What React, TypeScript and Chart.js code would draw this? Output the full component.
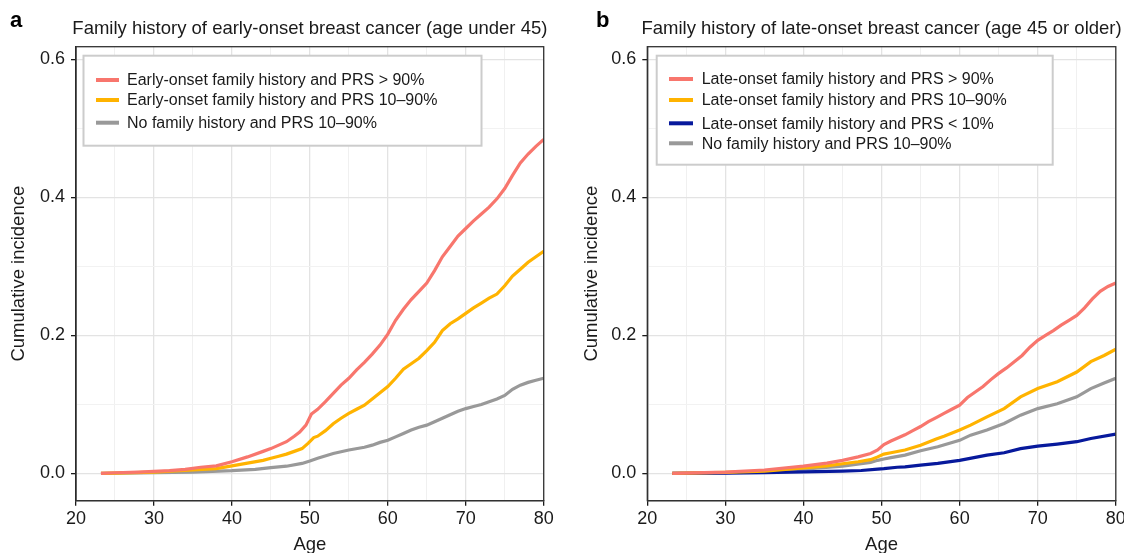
import React, { useEffect, useRef } from "react";
import { Chart, registerables } from "chart.js";

Chart.register(...registerables);

// ---------------- Data ----------------
const AGE_MIN = 20;
const AGE_MAX = 80;
const Y_MIN = -0.0395;
const Y_MAX = 0.6185;

const TITLE_A = "Family history of early-onset breast cancer (age under 45)";
const TITLE_B = "Family history of late-onset breast cancer (age 45 or older)";
const Y_TITLE = "Cumulative incidence";
const X_TITLE = "Age";

const LABELS_A = [
  "Early-onset family history and PRS > 90%",
  "Early-onset family history and PRS 10\u201390%",
  "No family history and PRS 10\u201390%",
];
const LABELS_B = [
  "Late-onset family history and PRS > 90%",
  "Late-onset family history and PRS 10\u201390%",
  "Late-onset family history and PRS < 10%",
  "No family history and PRS 10\u201390%",
];

// Panel a – early-onset family history, PRS > 90%
const agesA_high = [23.2, 25, 28, 30, 32, 34, 36, 38, 40, 42, 44, 45, 46, 47, 48, 48.7, 49.5, 50.2, 51, 52, 53, 54, 55, 56, 57, 58, 59, 60, 61, 62, 63, 64, 65, 66, 67, 68, 69, 70, 71, 72, 73, 74, 75, 76, 77, 78, 79, 80];
const incA_high = [0, 0.001, 0.002, 0.003, 0.004, 0.006, 0.009, 0.011, 0.017, 0.024, 0.032, 0.036, 0.041, 0.046, 0.054, 0.06, 0.07, 0.086, 0.093, 0.104, 0.116, 0.128, 0.138, 0.15, 0.161, 0.173, 0.186, 0.202, 0.222, 0.238, 0.252, 0.264, 0.276, 0.294, 0.314, 0.329, 0.344, 0.355, 0.366, 0.376, 0.386, 0.398, 0.413, 0.432, 0.45, 0.463, 0.474, 0.484];

// Panel a – early-onset family history, PRS 10–90%
const agesA_mid = [23.2, 25, 30, 35, 38, 40, 42, 44, 45, 46, 47, 48, 49, 49.8, 50.5, 51, 52, 53, 54, 55, 56, 57, 58, 59, 60, 61, 62, 63, 64, 65, 66, 67, 68, 69, 70, 71, 72, 73, 74, 75, 76, 77, 78, 79, 80];
const incA_mid = [0, 0.0005, 0.002, 0.005, 0.007, 0.011, 0.015, 0.019, 0.022, 0.025, 0.028, 0.032, 0.036, 0.044, 0.052, 0.054, 0.062, 0.072, 0.08, 0.087, 0.093, 0.099, 0.108, 0.117, 0.126, 0.138, 0.151, 0.159, 0.167, 0.178, 0.19, 0.207, 0.217, 0.224, 0.232, 0.24, 0.247, 0.254, 0.26, 0.272, 0.286, 0.296, 0.306, 0.314, 0.322];

// Panel a – no family history, PRS 10–90%
const agesA_none = [23.2, 30, 35, 40, 43, 45, 47, 49, 50, 51, 53, 55, 57, 58, 59, 60, 61, 62, 63, 64, 65, 66, 67, 68, 69, 70, 71, 72, 73, 74, 75, 76, 77, 78, 79, 80];
const incA_none = [0, 0.001, 0.002, 0.004, 0.006, 0.0085, 0.0105, 0.0145, 0.018, 0.022, 0.029, 0.034, 0.038, 0.041, 0.045, 0.048, 0.053, 0.058, 0.063, 0.067, 0.07, 0.075, 0.08, 0.085, 0.09, 0.094, 0.097, 0.1, 0.104, 0.108, 0.113, 0.122, 0.128, 0.132, 0.135, 0.138];

// Panel b – late-onset family history, PRS > 90%
const agesB_high = [23.2, 30, 35, 40, 43, 45, 47, 48.6, 49.5, 50.3, 51.2, 52, 53, 54, 55, 56, 57, 58, 59, 60, 61, 62, 63, 64, 65, 66, 67, 68, 69, 70, 71, 72, 73, 74, 75, 76, 77, 78, 79, 80];
const incB_high = [0, 0.002, 0.005, 0.0106, 0.015, 0.019, 0.024, 0.029, 0.034, 0.042, 0.047, 0.051, 0.056, 0.062, 0.068, 0.075, 0.081, 0.087, 0.093, 0.099, 0.11, 0.118, 0.126, 0.136, 0.145, 0.153, 0.162, 0.171, 0.183, 0.193, 0.2, 0.207, 0.215, 0.222, 0.229, 0.24, 0.253, 0.264, 0.271, 0.276];

// Panel b – late-onset family history, PRS 10–90%
const agesB_mid = [23.2, 30, 35, 40, 43, 45, 47, 48.6, 49.5, 50.3, 51.2, 53, 55, 57, 58, 60, 61.4, 63.5, 65.7, 67.8, 70, 72.5, 75, 76.8, 78.5, 80];
const incB_mid = [0, 0.0015, 0.0035, 0.008, 0.011, 0.014, 0.017, 0.02, 0.024, 0.028, 0.03, 0.034, 0.041, 0.05, 0.054, 0.063, 0.07, 0.082, 0.094, 0.111, 0.123, 0.133, 0.147, 0.162, 0.171, 0.18];

// Panel b – late-onset family history, PRS < 10%
const agesB_low = [23.2, 30, 35, 40, 45, 47.4, 49.5, 50.3, 52, 53, 55, 57.2, 60, 63.5, 65.7, 67.8, 70, 72.5, 75, 76.8, 80];
const incB_low = [0, 0.0005, 0.001, 0.0024, 0.0034, 0.0043, 0.0063, 0.007, 0.009, 0.0096, 0.012, 0.0145, 0.019, 0.0265, 0.03, 0.036, 0.0396, 0.0425, 0.046, 0.0507, 0.057];

// Panel b – no family history, PRS 10–90%
const agesB_none = [23.2, 30, 35, 40, 45, 47.4, 48.6, 49.5, 50.3, 51.2, 53, 55, 57.2, 60, 61.4, 63.5, 65.7, 67.8, 70, 72.5, 75, 76.8, 78.5, 80];
const incB_none = [0, 0.001, 0.003, 0.0064, 0.0106, 0.014, 0.016, 0.019, 0.021, 0.023, 0.0265, 0.033, 0.0386, 0.048, 0.0555, 0.063, 0.0725, 0.0845, 0.094, 0.101, 0.111, 0.123, 0.131, 0.138];

// ---------------- Styles ----------------
const RED = "#F8766D";
const ORANGE = "#FFB300";
const BLUE = "#07199C";
const GREY = "#999999";
const FONT = "'Liberation Sans', Arial, Helvetica, sans-serif";
const TEXT = "#1a1a1a";

const toPoints = (ages: number[], vals: number[]) =>
  ages.map((a, i) => ({ x: a, y: vals[i] }));

type PanelCfg = {
  letter: string;
  title: string;
  legendLabels: string[];
  series: { ages: number[]; vals: number[]; color: string }[];
  canvasWidth: number;
  yWidth: number;
  yTitlePad: number;
  padRight: number;
  letterX: number;
  legend: { dx: number; dy: number; w: number; h: number; rows: number[]; lineX0: number; lineX1: number; textX: number };
};

const panelPlugin = {
  id: "panelDecor",
  afterDatasetsDraw(chart: any, _args: any, opts: any) {
    const cfg: PanelCfg = opts.cfg;
    const ctx = chart.ctx;
    const ca = chart.chartArea;
    const lg = cfg.legend;
    ctx.save();
    const bx = ca.left + lg.dx;
    const by = ca.top + lg.dy;
    ctx.fillStyle = "#ffffff";
    ctx.fillRect(bx, by, lg.w, lg.h);
    ctx.strokeStyle = "#cccccc";
    ctx.lineWidth = 2;
    ctx.strokeRect(bx, by, lg.w, lg.h);
    ctx.font = `16px ${FONT}`;
    ctx.textBaseline = "middle";
    ctx.textAlign = "left";
    chart.data.datasets.forEach((ds: any, i: number) => {
      const y = by + lg.rows[i];
      ctx.strokeStyle = ds.borderColor;
      ctx.lineWidth = 4;
      ctx.beginPath();
      ctx.moveTo(ca.left + lg.lineX0, y);
      ctx.lineTo(ca.left + lg.lineX1, y);
      ctx.stroke();
      ctx.fillStyle = TEXT;
      ctx.fillText(ds.label, ca.left + lg.textX, y + 1);
    });
    ctx.restore();
  },
  afterDraw(chart: any, _args: any, opts: any) {
    const cfg: PanelCfg = opts.cfg;
    const ctx = chart.ctx;
    const ca = chart.chartArea;
    ctx.save();
    ctx.strokeStyle = "#333333";
    ctx.lineWidth = 1.3;
    ctx.strokeRect(ca.left, ca.top, ca.right - ca.left, ca.bottom - ca.top);
    ctx.fillStyle = TEXT;
    ctx.textBaseline = "alphabetic";
    ctx.textAlign = "center";
    ctx.font = `18.5px ${FONT}`;
    ctx.fillText(cfg.title, (ca.left + ca.right) / 2, 34);
    ctx.textAlign = "left";
    ctx.font = `bold 22px ${FONT}`;
    ctx.fillStyle = "#000";
    ctx.fillText(cfg.letter, cfg.letterX, 27);
    ctx.restore();
  },
};

function Panel({ cfg, left }: { cfg: PanelCfg; left: number }) {
  const ref = useRef<HTMLCanvasElement | null>(null);
  useEffect(() => {
    if (!ref.current) return;
    const chart = new Chart(ref.current, {
      type: "line",
      data: {
        datasets: cfg.series.map((s, i) => ({
          label: cfg.legendLabels[i],
          data: toPoints(s.ages, s.vals),
          borderColor: s.color,
          backgroundColor: s.color,
          borderWidth: 3.2,
          pointRadius: 0,
          tension: 0,
          fill: false,
        })),
      },
      options: {
        responsive: false,
        animation: false,
        events: [],
        layout: { padding: { top: 46.7, right: cfg.padRight, left: 0, bottom: 0 } },
        plugins: {
          legend: { display: false },
          tooltip: { enabled: false },
          title: { display: false },
          panelDecor: { cfg },
        } as any,
        scales: {
          x: {
            type: "linear",
            min: AGE_MIN,
            max: AGE_MAX,
            afterFit: (s: any) => {
              s.height = 52.3;
            },
            ticks: {
              stepSize: 5,
              autoSkip: false,
              maxRotation: 0,
              padding: 3,
              color: TEXT,
              font: { family: FONT, size: 18 },
              callback: (v: any) => (Math.round(v) % 10 === 0 ? String(v) : ""),
            },
            grid: {
              color: (c: any) => (c.tick && Math.round(c.tick.value) % 10 === 0 ? "#e3e3e3" : "#f0f0f0"),
              lineWidth: (c: any) => (c.tick && Math.round(c.tick.value) % 10 === 0 ? 1.3 : 1),
              tickColor: (c: any) => (c.tick && Math.round(c.tick.value) % 10 === 0 ? "#1a1a1a" : "rgba(0,0,0,0)"),
              tickLength: 5,
              tickWidth: 1.3,
            },
            border: { display: true, color: "#1a1a1a", width: 1.3 },
            title: {
              display: true,
              text: X_TITLE,
              color: TEXT,
              font: { family: FONT, size: 18.5 },
              padding: { top: 0, bottom: -3 },
            },
          },
          y: {
            type: "linear",
            min: Y_MIN,
            max: Y_MAX,
            afterFit: (s: any) => {
              s.width = cfg.yWidth;
            },
            ticks: {
              stepSize: 0.1,
              includeBounds: false,
              autoSkip: false,
              padding: 6,
              color: TEXT,
              font: { family: FONT, size: 18 },
              callback: (v: any) => (Math.round(v * 10) % 2 === 0 ? Number(v).toFixed(1) : ""),
            },
            grid: {
              color: (c: any) => (c.tick && Math.round(c.tick.value * 10) % 2 === 0 ? "#e3e3e3" : "#f2f2f2"),
              lineWidth: (c: any) => (c.tick && Math.round(c.tick.value * 10) % 2 === 0 ? 1.3 : 1),
              tickColor: (c: any) => (c.tick && Math.round(c.tick.value * 10) % 2 === 0 ? "#1a1a1a" : "rgba(0,0,0,0)"),
              tickLength: 5,
              tickWidth: 1.3,
            },
            border: { display: true, color: "#1a1a1a", width: 1.3 },
            title: {
              display: true,
              text: Y_TITLE,
              color: TEXT,
              font: { family: FONT, size: 18.5 },
              padding: { top: cfg.yTitlePad, bottom: 0 },
            },
          },
        },
      },
      plugins: [panelPlugin as any],
    });
    return () => chart.destroy();
  }, [cfg]);
  return (
    <canvas
      ref={ref}
      width={cfg.canvasWidth}
      height={553}
      style={{ position: "absolute", left, top: 0, width: cfg.canvasWidth, height: 553 }}
    />
  );
}

const PANEL_A: PanelCfg = {
  letter: "a",
  title: TITLE_A,
  legendLabels: LABELS_A,
  series: [
    { ages: agesA_high, vals: incA_high, color: RED },
    { ages: agesA_mid, vals: incA_mid, color: ORANGE },
    { ages: agesA_none, vals: incA_none, color: GREY },
  ],
  canvasWidth: 562,
  yWidth: 76,
  yTitlePad: 7.4,
  padRight: 18.3,
  letterX: 10,
  legend: { dx: 7.5, dy: 9, w: 398, h: 90, rows: [24.3, 44.3, 67], lineX0: 20, lineX1: 43, textX: 51 },
};

const PANEL_B: PanelCfg = {
  letter: "b",
  title: TITLE_B,
  legendLabels: LABELS_B,
  series: [
    { ages: agesB_high, vals: incB_high, color: RED },
    { ages: agesB_mid, vals: incB_mid, color: ORANGE },
    { ages: agesB_low, vals: incB_low, color: BLUE },
    { ages: agesB_none, vals: incB_none, color: GREY },
  ],
  canvasWidth: 580,
  yWidth: 85.3,
  yTitlePad: 19,
  padRight: 26.2,
  letterX: 34,
  legend: { dx: 9.4, dy: 9, w: 396, h: 109, rows: [23.3, 44.3, 67.6, 87.6], lineX0: 21.7, lineX1: 45.7, textX: 54.4 },
};

export default function App() {
  return (
    <div
      style={{
        position: "absolute",
        left: 0,
        top: 0,
        width: 1124,
        height: 553,
        overflow: "hidden",
        background: "#ffffff",
      }}
    >
      <Panel cfg={PANEL_A} left={0} />
      <Panel cfg={PANEL_B} left={562} />
    </div>
  );
}
